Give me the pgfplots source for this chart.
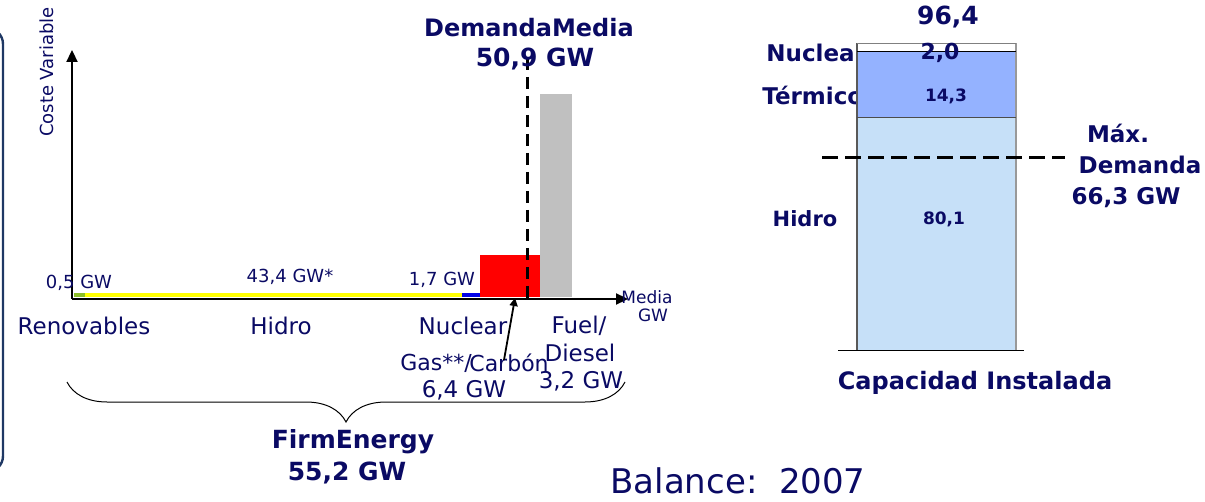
\documentclass[border=0pt]{standalone}
\usepackage{pgfplots}
\pgfplotsset{compat=1.18}
\usepackage{fontspec}
\setmainfont{DejaVu Sans}
\usetikzlibrary{arrows.meta,decorations.pathreplacing}
\definecolor{txt}{RGB}{10,10,100}
\definecolor{border}{RGB}{31,56,100}
\definecolor{rgreen}{RGB}{140,190,40}
\definecolor{ryellow}{RGB}{255,255,0}
\definecolor{rblue}{RGB}{0,0,230}
\definecolor{rred}{RGB}{255,0,0}
\definecolor{rgrey}{RGB}{192,192,192}
\definecolor{hyd}{RGB}{198,224,248}
\definecolor{ter}{RGB}{148,178,255}
\newcommand{\fs}[1]{\fontsize{#1}{#1}\selectfont}
\begin{document}
\begin{tikzpicture}[x=0.5pt,y=-0.5pt]
\path[use as bounding box] (0,0) rectangle (1205,502);
% slide border
\draw[line width=1.2pt, color=border, rounded corners=8] (-20,28) -- (3,28) -- (3,472) -- (-20,472);

% ---------- left chart: merit order ----------
\begin{axis}[at={(36pt,-149.5pt)}, anchor=south west, scale only axis,
  width=278pt, height=124.5pt, xmin=0, xmax=61.8, ymin=-2, ymax=247,
  axis lines=left, axis line style={line width=1.1pt, -{Triangle[length=6pt,width=5.5pt]}},
  xtick=\empty, ytick=\empty, clip=false]
\addplot[fill=rgreen, draw=none] coordinates {(0.2,0) (0.2,4) (1.4,4) (1.4,0)} -- cycle;
\addplot[fill=ryellow, draw=none] coordinates {(1.4,0) (1.4,4) (43.3,4) (43.3,0)} -- cycle;
\addplot[fill=rblue, draw=none] coordinates {(43.3,0) (43.3,4) (45.4,4) (45.4,0)} -- cycle;
\addplot[fill=rred, draw=none] coordinates {(45.4,0) (45.4,42) (52.0,42) (52.0,0)} -- cycle;
\addplot[fill=rgrey, draw=none] coordinates {(52.0,0) (52.0,203) (55.6,203) (55.6,0)} -- cycle;
\addplot[black, line width=1.6pt, dash pattern=on 6pt off 3.5pt] coordinates {(50.6,239) (50.6,-1)};
\end{axis}

% left chart texts
\begin{scope}[every node/.style={text=txt, inner sep=0pt}]
\node[rotate=90] at (47,72) {\fs{9pt}Coste Variable};
\node at (79,283) {\fs{9pt}0,5 GW};
\node at (290,277) {\fs{9pt}43,4 GW*};
\node at (442,280) {\fs{9pt}1,7 GW};
\node at (647,297) {\fs{8.5pt}Media};
\node at (653,315) {\fs{8.5pt}GW};
\node at (84,326) {\fs{11.5pt}Renovables};
\node at (281,326) {\fs{11.5pt}Hidro};
\node at (463,326) {\fs{11.5pt}Nuclear};
\node at (579,326) {\fs{11.5pt}Fuel/};
\node at (580,353) {\fs{11.5pt}Diesel};
\node at (581,381) {\fs{11.5pt}3,2 GW};
\node[anchor=west] at (400,363) {\fs{11pt}Gas**/};
\node[anchor=west] at (469,363) {\fs{11pt}Carbón};
\node at (464,390) {\fs{11.5pt}6,4 GW};
\node at (738,481) {\fs{17pt}Balance:\ \ 2007};
\node at (529,28) {\fs{12pt}\bfseries DemandaMedia};
\node at (535,59) {\fs{12.5pt}\bfseries 50,9 GW};
\node at (353,442) {\fs{12.5pt}\bfseries FirmEnergy};
\node at (347,473) {\fs{12.5pt}\bfseries 55,2 GW};
\end{scope}
\draw[line width=0.9pt, -{Triangle[length=4pt,width=4pt]}] (504,360) -- (515,298);
\draw[line width=0.5pt, decorate, decoration={brace, mirror, amplitude=20pt}] (67,382) -- (625,382);

% right chart labels behind the bar
\begin{scope}[every node/.style={text=txt, inner sep=0pt}]
\node[anchor=west] at (766,53) {\fs{11.5pt}\bfseries Nuclear};
\node[anchor=west] at (762,95) {\fs{11.5pt}\bfseries Térmico};
\end{scope}

% ---------- right chart: installed capacity ----------
\begin{axis}[at={(411pt,-175.5pt)}, anchor=south west, scale only axis,
  width=121.5pt, height=160.5pt, xmin=0, xmax=243, ymin=0, ymax=110,
  axis lines=none, clip=false]
\addplot[fill=hyd, draw=none] coordinates {(35,0) (35,80.1) (194,80.1) (194,0)} -- cycle;
\addplot[fill=ter, draw=none] coordinates {(35,80.1) (35,102.7) (194,102.7) (194,80.1)} -- cycle;
\addplot[fill=white, draw=none] coordinates {(35,102.7) (35,105.5) (194,105.5) (194,102.7)} -- cycle;
\addplot[gray!70!black, line width=0.7pt] coordinates {(35,0) (35,105.5)};
\addplot[gray!80, line width=0.7pt] coordinates {(194,0) (194,105.5)};
\addplot[gray, line width=0.4pt] coordinates {(35,105.5) (194,105.5)};
\addplot[black, line width=0.6pt] coordinates {(35,102.7) (194,102.7)};
\addplot[gray!60!black, line width=0.6pt] coordinates {(35,80.1) (194,80.1)};
\addplot[black, line width=0.5pt] coordinates {(16,0) (202,0)};
\addplot[black, line width=1.5pt, dash pattern=on 8pt off 3.5pt] coordinates {(0,66.3) (243,66.3)};
\end{axis}

\begin{scope}[every node/.style={text=txt, inner sep=0pt}]
\node at (948,17) {\fs{12.5pt}\bfseries 96,4};
\node at (940,53) {\fs{11pt}\bfseries 2,0};
\node at (946,96) {\fs{8.5pt}\bfseries 14,3};
\node at (944,219) {\fs{8.5pt}\bfseries 80,1};
\node at (805,219) {\fs{10.5pt}\bfseries Hidro};
\node at (1118,133) {\fs{11.5pt}\bfseries Máx.};
\node at (1140,165) {\fs{11.5pt}\bfseries Demanda};
\node at (1126,198) {\fs{11.5pt}\bfseries 66,3 GW};
\node at (975,383) {\fs{12pt}\bfseries Capacidad Instalada};
\end{scope}
\end{tikzpicture}
\end{document}
